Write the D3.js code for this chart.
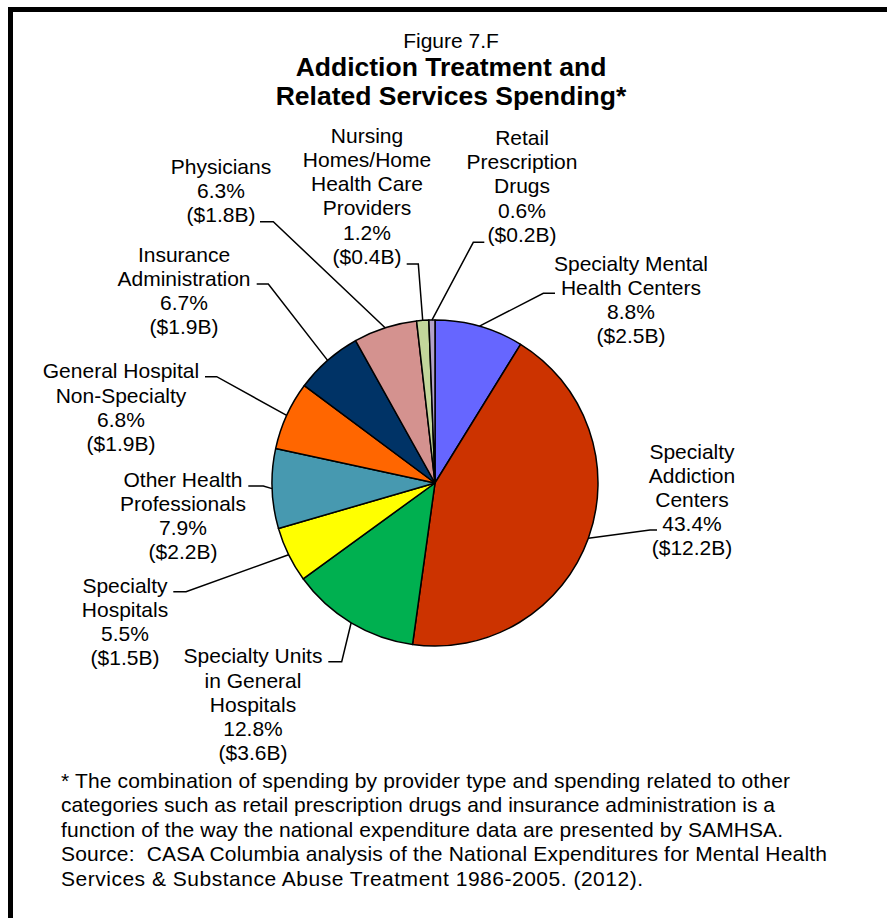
<!DOCTYPE html>
<html>
<head>
<meta charset="utf-8">
<script src="https://cdn.jsdelivr.net/npm/d3@7"></script>
<style>
  html, body { margin: 0; padding: 0; background: #fff; }
  svg { display: block; }
  text { font-family: "Liberation Sans", Arial, sans-serif; fill: #000; white-space: pre; }
</style>
</head>
<body>
<div id="chart"></div>
<script>
// ---- Data ----
const categories = [
  ["Specialty Mental", "Health Centers"],
  ["Specialty", "Addiction", "Centers"],
  ["Specialty Units", "in General", "Hospitals"],
  ["Specialty", "Hospitals"],
  ["Other Health", "Professionals"],
  ["General Hospital", "Non-Specialty"],
  ["Insurance", "Administration"],
  ["Physicians"],
  ["Nursing", "Homes/Home", "Health Care", "Providers"],
  ["Retail", "Prescription", "Drugs"]
];
const percents = [8.8, 43.4, 12.8, 5.5, 7.9, 6.8, 6.7, 6.3, 1.2, 0.6];
const billions = [2.5, 12.2, 3.6, 1.5, 2.2, 1.9, 1.9, 1.8, 0.4, 0.2];
const sliceColors = ["#6666FF", "#CC3300", "#00B050", "#FFFF00", "#4799B0",
                     "#FF6600", "#003366", "#D4928F", "#C3D69B", "#B3A2C7"];
const titleLines = ["Figure 7.F", "Addiction Treatment and", "Related Services Spending*"];
const footnoteLines = [
  "* The combination of spending by provider type and spending related to other",
  "categories such as retail prescription drugs and insurance administration is a",
  "function of the way the national expenditure data are presented by SAMHSA.",
  "Source:  CASA Columbia analysis of the National Expenditures for Mental Health",
  "Services & Substance Abuse Treatment 1986-2005. (2012)."
];

// ---- Layout (label placement, footnote line widths) ----
const labelLayout = [
  { x: 631, y: 270.7, elbow: [543.3, 293.3], end: [555, 293.3] },
  { x: 692, y: 458.5, elbow: [650, 530], end: [657, 530] },
  { x: 253, y: 663.3, elbow: [341.7, 661.7], end: [328.3, 661.7] },
  { x: 125, y: 592.7, elbow: [186, 591.7], end: [173.3, 591.7] },
  { x: 183, y: 486.7, elbow: [263.3, 486], end: [248.3, 486] },
  { x: 121, y: 378.3, elbow: [216.7, 376.7], end: [205, 376.7] },
  { x: 184, y: 261.7, elbow: [268.3, 284], end: [256.7, 284] },
  { x: 221, y: 174, elbow: [273.3, 221.7], end: [260, 221.7] },
  { x: 367, y: 142.7, elbow: [418.3, 264], end: [406.7, 264] },
  { x: 522, y: 145, elbow: [473.3, 242.3], end: [484.3, 242.3] }
];
const footnoteWidths = [729, 714, 722, 766, 582];

const W = 887, H = 918;
const cx = 435, cy = 483, R = 163;
const lineH = 24.2;

const svg = d3.select("#chart").append("svg").attr("width", W).attr("height", H);

// Frame (clipped at right and bottom like the original)
svg.append("path")
  .attr("d", `M10.5,${H + 5} V9.5 H${W + 5}`)
  .attr("fill", "none").attr("stroke", "#000").attr("stroke-width", 5);

// Title
const title = svg.append("g").attr("text-anchor", "middle");
title.append("text").attr("x", 451).attr("y", 48).attr("font-size", 21).text(titleLines[0]);
title.append("text").attr("x", 451).attr("y", 76).attr("font-size", 26.5).attr("font-weight", "bold").text(titleLines[1]);
title.append("text").attr("x", 451).attr("y", 105).attr("font-size", 26.5).attr("font-weight", "bold").text(titleLines[2]);

// Pie
const data = percents.map((p, i) => ({ p, i }));
const pie = d3.pie().sort(null).value(d => d.p).startAngle(0).endAngle(2 * Math.PI);
const arcs = pie(data);
const arc = d3.arc().innerRadius(0).outerRadius(R);

const g = svg.append("g").attr("transform", `translate(${cx},${cy})`);
g.selectAll("path.slice").data(arcs).join("path")
  .attr("class", "slice")
  .attr("d", arc)
  .attr("fill", d => sliceColors[d.data.i])
  .attr("stroke", "#000").attr("stroke-width", 1.5).attr("stroke-linejoin", "round");

// Leader lines
const fmt1 = d3.format(".1f");
svg.selectAll("path.leader").data(arcs).join("path")
  .attr("class", "leader")
  .attr("fill", "none").attr("stroke", "#000").attr("stroke-width", 1.5)
  .attr("d", d => {
    const mid = (d.startAngle + d.endAngle) / 2;
    const px = cx + R * Math.sin(mid), py = cy - R * Math.cos(mid);
    const L = labelLayout[d.data.i];
    return d3.line()([[px, py], L.elbow, L.end]);
  });

// Labels
const labels = svg.selectAll("text.lbl").data(arcs).join("text")
  .attr("class", "lbl")
  .attr("text-anchor", "middle")
  .attr("font-size", 21);
labels.each(function (d) {
  const i = d.data.i;
  const L = labelLayout[i];
  const lines = categories[i].concat([fmt1(percents[i]) + "%", "($" + fmt1(billions[i]) + "B)"]);
  d3.select(this).selectAll("tspan").data(lines).join("tspan")
    .attr("x", L.x)
    .attr("y", (t, k) => L.y + k * lineH)
    .text(t => t);
});

// Footnote
svg.append("g").selectAll("text").data(footnoteLines).join("text")
  .attr("x", 61)
  .attr("y", (t, k) => 788 + k * 24.4)
  .attr("font-size", 21)
  .attr("textLength", (t, k) => footnoteWidths[k])
  .attr("lengthAdjust", "spacing")
  .text(t => t);
</script>
</body>
</html>
